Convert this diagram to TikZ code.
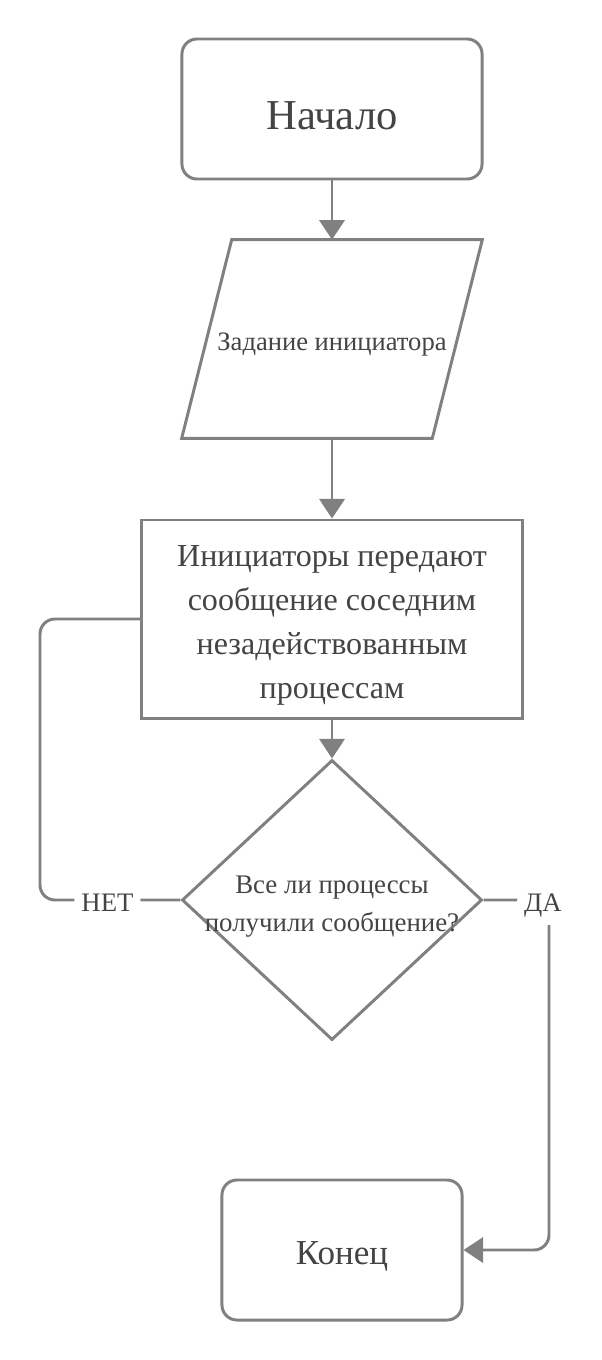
\documentclass[tikz,border=0pt]{standalone}
\usepackage{fontspec}
\setmainfont{Liberation Serif}
\usetikzlibrary{shapes.geometric,arrows.meta}
\definecolor{linegray}{HTML}{808080}
\definecolor{textgray}{HTML}{444444}
\newcommand{\padtop}[1]{\rule{0pt}{#1}}

\tikzset{
  outline/.style={draw=linegray, line width=2.1pt},
  base/.style={outline, text=textgray, align=center, inner sep=0pt},
  term/.style={base, rounded corners=0.375cm, minimum height=3.5cm},
  proc/.style={base, minimum width=9.5cm, minimum height=4.95cm},
  decision/.style={base, diamond, minimum width=7.5cm, minimum height=7cm},
  flow/.style={outline, -{Triangle[length=14pt,width=18pt]}},
  link/.style={outline, rounded corners=0.375cm},
  lbl/.style={fill=white, text=textgray, inner sep=0.18cm, font=\fontsize{19}{23}\selectfont}
}

\begin{document}
\begin{tikzpicture}[x=0.025cm, y=-0.025cm]
  \fill[white] (0,0) rectangle (601,1360);

  % blocks
  \node[term, minimum width=7.5cm, font=\fontsize{30.3}{36}\selectfont] (start) at (332,109) {\padtop{30pt}Начало};
  \node[text=textgray, minimum width=6.25cm, minimum height=4.95cm, inner sep=0pt,
        font=\fontsize{18.9}{23}\selectfont] (task) at (332,339) {\padtop{21pt}Задание инициатора};
  \draw[outline] ([xshift=0.625cm]task.north west) -- ([xshift=0.625cm]task.north east)
    -- ([xshift=-0.625cm]task.south east) -- ([xshift=-0.625cm]task.south west) -- cycle;
  \node[proc, font=\fontsize{22.8}{31.3}\selectfont] (work) at (332,619)
    {\padtop{23.6pt}Инициаторы передают\\сообщение соседним\\незадействованным\\процессам};
  \node[decision] (check) at (332,900) {};
  \node[text=textgray, align=center, font=\fontsize{19.1}{27}\selectfont] (check-txt) at (check)
    {\padtop{21.2pt}Все ли процессы\\получили сообщение?};
  \node[term, minimum width=6cm, font=\fontsize{24.9}{30}\selectfont] (stop) at (342,1250) {\padtop{25pt}Конец};

  \coordinate (no) at (40,900);
  \coordinate (yes) at (549,900);

  % connectors
  \draw[flow] (start) -- (task);
  \draw[flow] (task) -- (work);
  \draw[flow] (work) -- (check);
  \draw[link] (check.west) -- node[lbl, pos=.52, yshift=-0.06cm] {НЕТ} (no) |- (work.west);
  \draw[link, -{Triangle[length=14pt,width=18pt]}] (check.east) -- (yes)
    node[lbl, xshift=-0.15cm, yshift=-0.15cm] {ДА} -- (yes |- stop.east) -- (stop.east);
\end{tikzpicture}
\end{document}
